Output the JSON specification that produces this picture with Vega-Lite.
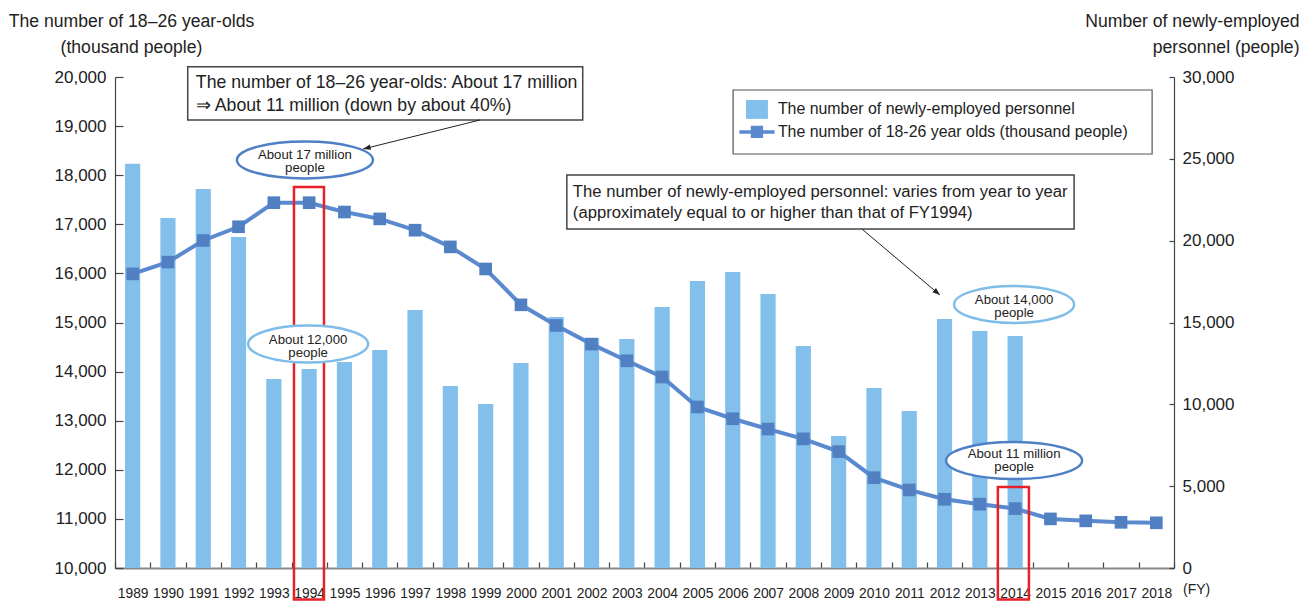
{
  "$schema": "https://vega.github.io/schema/vega-lite/v6.json",
  "width": 1059,
  "height": 491,
  "autosize": {"type": "none"},
  "padding": {"left": 115, "top": 77, "right": 137, "bottom": 33},
  "background": "white",
  "config": {"view": {"stroke": null}, "axis": {"grid": false}},
  "data": {"values": [
    {"year": 1989, "newly": 24700, "age": 15990},
    {"year": 1990, "newly": 21380, "age": 16230},
    {"year": 1991, "newly": 23160, "age": 16670},
    {"year": 1992, "newly": 20220, "age": 16950},
    {"year": 1993, "newly": 11550, "age": 17440},
    {"year": 1994, "newly": 12160, "age": 17440},
    {"year": 1995, "newly": 12590, "age": 17250},
    {"year": 1996, "newly": 13320, "age": 17110},
    {"year": 1997, "newly": 15760, "age": 16880},
    {"year": 1998, "newly": 11120, "age": 16540},
    {"year": 1999, "newly": 10020, "age": 16090},
    {"year": 2000, "newly": 12530, "age": 15360},
    {"year": 2001, "newly": 15340, "age": 14940},
    {"year": 2002, "newly": 14050, "age": 14560},
    {"year": 2003, "newly": 13990, "age": 14220},
    {"year": 2004, "newly": 15950, "age": 13890},
    {"year": 2005, "newly": 17540, "age": 13280},
    {"year": 2006, "newly": 18090, "age": 13040},
    {"year": 2007, "newly": 16740, "age": 12830},
    {"year": 2008, "newly": 13560, "age": 12630},
    {"year": 2009, "newly": 8070, "age": 12370},
    {"year": 2010, "newly": 11000, "age": 11840},
    {"year": 2011, "newly": 9590, "age": 11590},
    {"year": 2012, "newly": 15210, "age": 11400},
    {"year": 2013, "newly": 14480, "age": 11300},
    {"year": 2014, "newly": 14180, "age": 11210},
    {"year": 2015, "age": 11000},
    {"year": 2016, "age": 10960},
    {"year": 2017, "age": 10930},
    {"year": 2018, "age": 10920}
  ]},
  "layer": [
    {
      "layer": [
        {
          "mark": {"type": "bar", "width": {"band": 0.43}},
          "encoding": {
            "x": {"field": "year", "type": "ordinal", "scale": {"paddingInner": 0, "paddingOuter": 0},
              "axis": {"tickBand": "extent", "tickSize": -6, "tickColor": "#444", "tickWidth": 1.2, "labelPadding": 24.1, "labelAngle": 0, "labelOverlap": false,
                "labelFont": "Liberation Sans", "labelFontSize": 13.8, "labelColor": "#222", "labelBaseline": "top",
                "domainColor": "#888", "domainWidth": 2, "title": null}},
            "y": {"field": "newly", "type": "quantitative", "scale": {"domain": [0, 30000], "nice": false},
              "axis": {"orient": "right", "values": [0, 5000, 10000, 15000, 20000, 25000, 30000], "format": ",.0f",
                "tickSize": -5, "tickColor": "#444", "tickWidth": 1.2, "domainColor": "#444", "domainWidth": 1.2,
                "labelPadding": 13, "labelFont": "Liberation Sans", "labelFontSize": 17, "labelColor": "#222",
                "title": ["Number of newly-employed", "personnel (people)"], "titleAngle": 0, "titleX": 125, "titleY": -50.3,
                "titleAlign": "right", "titleBaseline": "alphabetic", "titleFont": "Liberation Sans", "titleFontSize": 17.6,
                "titleFontWeight": "normal", "titleLineHeight": 26.3, "titleColor": "#222"}},
            "color": {"datum": "The number of newly-employed personnel",
              "scale": {"domain": ["The number of newly-employed personnel", "The number of 18-26 year olds (thousand people)"], "range": ["#82c0eb", "#5585c8"]},
              "legend": {"orient": "none", "legendX": 634, "legendY": 24.5, "title": null, "padding": 0,
                "labelFont": "Liberation Sans", "labelFontSize": 15.9, "labelColor": "#222", "labelLimit": 600,
                "symbolSize": 484, "labelOffset": 13, "rowPadding": 0.5,
                "encode": {"symbols": {"update": {
                  "shape": {"signal": "datum.value === 'The number of newly-employed personnel' ? 'M-1,-0.86H1V0.86H-1Z' : 'M-1.6,0H1.6M-0.4,-0.4H0.4V0.4H-0.4Z'"},
                  "fill": {"signal": "datum.value === 'The number of newly-employed personnel' ? '#82c0eb' : '#5080c2'"},
                  "stroke": {"signal": "datum.value === 'The number of newly-employed personnel' ? 'transparent' : '#5a89cf'"},
                  "strokeWidth": {"signal": "datum.value === 'The number of newly-employed personnel' ? 0 : 3.5"},
                  "opacity": {"value": 1}, "fillOpacity": {"value": 1}, "strokeOpacity": {"value": 1}}}}}}
          }
        },
        {
          "mark": {"type": "line", "color": "#5a89cf", "strokeWidth": 4,
            "point": {"filled": true, "shape": "square", "size": 160, "color": "#5080c2", "opacity": 1}},
          "encoding": {
            "x": {"field": "year", "type": "ordinal"},
            "y": {"field": "age", "type": "quantitative", "scale": {"domain": [10000, 20000], "nice": false, "zero": false},
              "axis": {"orient": "left", "values": [10000, 11000, 12000, 13000, 14000, 15000, 16000, 17000, 18000, 19000, 20000], "format": ",.0f",
                "tickSize": -8, "tickColor": "#444", "tickWidth": 1.2, "domainColor": "#444", "domainWidth": 1.2,
                "labelPadding": 17, "labelFont": "Liberation Sans", "labelFontSize": 17, "labelColor": "#222",
                "title": ["The number of 18–26 year-olds", "(thousand people)"], "titleAngle": 0, "titleX": 16, "titleY": -50.3,
                "titleAlign": "center", "titleBaseline": "alphabetic", "titleFont": "Liberation Sans", "titleFontSize": 17.6,
                "titleFontWeight": "normal", "titleLineHeight": 26.3, "titleColor": "#222"}}
          }
        }
      ],
      "resolve": {"scale": {"y": "independent"}}
    },
    {
      "data": {"values": [{}]},
      "layer": [
        {
          "mark": {"type": "rect", "filled": false, "color": "#e8202a", "strokeWidth": 2.5},
          "encoding": {
            "x": {"datum": 1993.57, "type": "quantitative", "scale": {"domain": [1988.5, 2018.5], "nice": false, "zero": false}, "axis": null},
            "x2": {"datum": 1994.42},
            "y": {"datum": 17760, "type": "quantitative", "scale": {"domain": [10000, 20000], "nice": false, "zero": false}, "axis": null},
            "y2": {"datum": 9360}
          }
        },
        {
          "mark": {"type": "rect", "filled": false, "color": "#e8202a", "strokeWidth": 2.5},
          "encoding": {
            "x": {"datum": 2013.51, "type": "quantitative", "scale": {"domain": [1988.5, 2018.5], "nice": false, "zero": false}, "axis": null},
            "x2": {"datum": 2014.39},
            "y": {"datum": 11650, "type": "quantitative", "scale": {"domain": [10000, 20000], "nice": false, "zero": false}, "axis": null},
            "y2": {"datum": 9360}
          }
        },
        {
          "mark": {"type": "point", "shape": "M-1,0C-1,-0.15,-0.552,-0.272,0,-0.272C0.552,-0.272,1,-0.15,1,0C1,0.15,0.552,0.272,0,0.272C-0.552,0.272,-1,0.15,-1,0Z",
            "size": 18496, "filled": true, "fill": "white", "stroke": "#4f7fc4", "strokeWidth": 2.5, "opacity": 1},
          "encoding": {
            "x": {"datum": 1993.88, "type": "quantitative", "scale": {"domain": [1988.5, 2018.5], "nice": false, "zero": false}, "axis": null},
            "y": {"datum": 18310, "type": "quantitative", "scale": {"domain": [10000, 20000], "nice": false, "zero": false}, "axis": null}
          }
        },
        {
          "mark": {"type": "point", "shape": "M-1,0C-1,-0.17,-0.552,-0.308,0,-0.308C0.552,-0.308,1,-0.17,1,0C1,0.17,0.552,0.308,0,0.308C-0.552,0.308,-1,0.17,-1,0Z",
            "size": 14400, "filled": true, "fill": "white", "stroke": "#7fbde8", "strokeWidth": 2.5, "opacity": 1},
          "encoding": {
            "x": {"datum": 1993.97, "type": "quantitative", "scale": {"domain": [1988.5, 2018.5], "nice": false, "zero": false}, "axis": null},
            "y": {"datum": 14562, "type": "quantitative", "scale": {"domain": [10000, 20000], "nice": false, "zero": false}, "axis": null}
          }
        },
        {
          "mark": {"type": "point", "shape": "M-1,0C-1,-0.17,-0.552,-0.308,0,-0.308C0.552,-0.308,1,-0.17,1,0C1,0.17,0.552,0.308,0,0.308C-0.552,0.308,-1,0.17,-1,0Z",
            "size": 14400, "filled": true, "fill": "white", "stroke": "#7fbde8", "strokeWidth": 2.5, "opacity": 1},
          "encoding": {
            "x": {"datum": 2013.97, "type": "quantitative", "scale": {"domain": [1988.5, 2018.5], "nice": false, "zero": false}, "axis": null},
            "y": {"datum": 15367, "type": "quantitative", "scale": {"domain": [10000, 20000], "nice": false, "zero": false}, "axis": null}
          }
        },
        {
          "mark": {"type": "point", "shape": "M-1,0C-1,-0.15,-0.552,-0.272,0,-0.272C0.552,-0.272,1,-0.15,1,0C1,0.15,0.552,0.272,0,0.272C-0.552,0.272,-1,0.15,-1,0Z",
            "size": 18496, "filled": true, "fill": "white", "stroke": "#4f7fc4", "strokeWidth": 2.5, "opacity": 1},
          "encoding": {
            "x": {"datum": 2013.97, "type": "quantitative", "scale": {"domain": [1988.5, 2018.5], "nice": false, "zero": false}, "axis": null},
            "y": {"datum": 12189, "type": "quantitative", "scale": {"domain": [10000, 20000], "nice": false, "zero": false}, "axis": null}
          }
        },
        {
          "mark": {"type": "text", "text": ["About 17 million", "people"], "font": "Liberation Sans", "fontSize": 13.2, "lineHeight": 13, "align": "center", "baseline": "middle", "color": "#222"},
          "encoding": {
            "x": {"datum": 1993.88, "type": "quantitative", "scale": {"domain": [1988.5, 2018.5], "nice": false, "zero": false}, "axis": null},
            "y": {"datum": 18411, "type": "quantitative", "scale": {"domain": [10000, 20000], "nice": false, "zero": false}, "axis": null}
          }
        },
        {
          "mark": {"type": "text", "text": ["About 12,000", "people"], "font": "Liberation Sans", "fontSize": 13.2, "lineHeight": 13, "align": "center", "baseline": "middle", "color": "#222"},
          "encoding": {
            "x": {"datum": 1993.97, "type": "quantitative", "scale": {"domain": [1988.5, 2018.5], "nice": false, "zero": false}, "axis": null},
            "y": {"datum": 14643, "type": "quantitative", "scale": {"domain": [10000, 20000], "nice": false, "zero": false}, "axis": null}
          }
        },
        {
          "mark": {"type": "text", "text": ["About 14,000", "people"], "font": "Liberation Sans", "fontSize": 13.2, "lineHeight": 13, "align": "center", "baseline": "middle", "color": "#222"},
          "encoding": {
            "x": {"datum": 2013.97, "type": "quantitative", "scale": {"domain": [1988.5, 2018.5], "nice": false, "zero": false}, "axis": null},
            "y": {"datum": 15458, "type": "quantitative", "scale": {"domain": [10000, 20000], "nice": false, "zero": false}, "axis": null}
          }
        },
        {
          "mark": {"type": "text", "text": ["About 11 million", "people"], "font": "Liberation Sans", "fontSize": 13.2, "lineHeight": 13, "align": "center", "baseline": "middle", "color": "#222"},
          "encoding": {
            "x": {"datum": 2013.97, "type": "quantitative", "scale": {"domain": [1988.5, 2018.5], "nice": false, "zero": false}, "axis": null},
            "y": {"datum": 12321, "type": "quantitative", "scale": {"domain": [10000, 20000], "nice": false, "zero": false}, "axis": null}
          }
        },
        {
          "mark": {"type": "rect", "fill": "white", "stroke": "#555", "strokeWidth": 1.2},
          "encoding": {
            "x": {"datum": 2006.01, "type": "quantitative", "scale": {"domain": [1988.5, 2018.5], "nice": false, "zero": false}, "axis": null},
            "x2": {"datum": 2017.88},
            "y": {"datum": 19735, "type": "quantitative", "scale": {"domain": [10000, 20000], "nice": false, "zero": false}, "axis": null},
            "y2": {"datum": 18432}
          }
        },
        {
          "mark": {"type": "rect", "fill": "white", "stroke": "#444", "strokeWidth": 1.5},
          "encoding": {
            "x": {"datum": 1990.56, "type": "quantitative", "scale": {"domain": [1988.5, 2018.5], "nice": false, "zero": false}, "axis": null},
            "x2": {"datum": 2001.75},
            "y": {"datum": 20210, "type": "quantitative", "scale": {"domain": [10000, 20000], "nice": false, "zero": false}, "axis": null},
            "y2": {"datum": 19124}
          }
        },
        {
          "mark": {"type": "text", "text": ["The number of 18–26 year-olds: About 17 million", "⇒ About 11 million (down by about 40%)"], "font": "Liberation Sans", "fontSize": 17.7, "lineHeight": 23.3, "align": "left", "baseline": "middle", "color": "#222"},
          "encoding": {
            "x": {"datum": 1990.79, "type": "quantitative", "scale": {"domain": [1988.5, 2018.5], "nice": false, "zero": false}, "axis": null},
            "y": {"datum": 19884, "type": "quantitative", "scale": {"domain": [10000, 20000], "nice": false, "zero": false}, "axis": null}
          }
        },
        {
          "mark": {"type": "rect", "fill": "white", "stroke": "#444", "strokeWidth": 1.5},
          "encoding": {
            "x": {"datum": 2001.30, "type": "quantitative", "scale": {"domain": [1988.5, 2018.5], "nice": false, "zero": false}, "axis": null},
            "x2": {"datum": 2015.67},
            "y": {"datum": 18004, "type": "quantitative", "scale": {"domain": [10000, 20000], "nice": false, "zero": false}, "axis": null},
            "y2": {"datum": 16904}
          }
        },
        {
          "mark": {"type": "text", "text": ["The number of newly-employed personnel: varies from year to year", "(approximately equal to or higher than that of FY1994)"], "font": "Liberation Sans", "fontSize": 16.65, "lineHeight": 21, "align": "left", "baseline": "middle", "color": "#222"},
          "encoding": {
            "x": {"datum": 2001.47, "type": "quantitative", "scale": {"domain": [1988.5, 2018.5], "nice": false, "zero": false}, "axis": null},
            "y": {"datum": 17664, "type": "quantitative", "scale": {"domain": [10000, 20000], "nice": false, "zero": false}, "axis": null}
          }
        },
        {
          "mark": {"type": "rule", "color": "#222", "strokeWidth": 1},
          "encoding": {
            "x": {"datum": 1998.84, "type": "quantitative", "scale": {"domain": [1988.5, 2018.5], "nice": false, "zero": false}, "axis": null},
            "x2": {"datum": 1995.53},
            "y": {"datum": 19124, "type": "quantitative", "scale": {"domain": [10000, 20000], "nice": false, "zero": false}, "axis": null},
            "y2": {"datum": 18534}
          }
        },
        {
          "mark": {"type": "point", "shape": "M0,0L-0.55,1.5L0.55,1.5Z", "size": 100, "filled": true, "color": "#222", "angle": 256, "opacity": 1},
          "encoding": {
            "x": {"datum": 1995.53, "type": "quantitative", "scale": {"domain": [1988.5, 2018.5], "nice": false, "zero": false}, "axis": null},
            "y": {"datum": 18534, "type": "quantitative", "scale": {"domain": [10000, 20000], "nice": false, "zero": false}, "axis": null}
          }
        },
        {
          "mark": {"type": "rule", "color": "#222", "strokeWidth": 1},
          "encoding": {
            "x": {"datum": 2009.66, "type": "quantitative", "scale": {"domain": [1988.5, 2018.5], "nice": false, "zero": false}, "axis": null},
            "x2": {"datum": 2011.87},
            "y": {"datum": 16904, "type": "quantitative", "scale": {"domain": [10000, 20000], "nice": false, "zero": false}, "axis": null},
            "y2": {"datum": 15560}
          }
        },
        {
          "mark": {"type": "point", "shape": "M0,0L-0.55,1.5L0.55,1.5Z", "size": 100, "filled": true, "color": "#222", "angle": 130, "opacity": 1},
          "encoding": {
            "x": {"datum": 2011.87, "type": "quantitative", "scale": {"domain": [1988.5, 2018.5], "nice": false, "zero": false}, "axis": null},
            "y": {"datum": 15560, "type": "quantitative", "scale": {"domain": [10000, 20000], "nice": false, "zero": false}, "axis": null}
          }
        },
        {
          "mark": {"type": "text", "text": "(FY)", "font": "Liberation Sans", "fontSize": 14, "align": "center", "baseline": "middle", "color": "#222"},
          "encoding": {
            "x": {"datum": 2019.14, "type": "quantitative", "scale": {"domain": [1988.5, 2018.5], "nice": false, "zero": false}, "axis": null},
            "y": {"datum": 9552, "type": "quantitative", "scale": {"domain": [10000, 20000], "nice": false, "zero": false}, "axis": null}
          }
        }
      ]
    }
  ],
  "resolve": {"scale": {"x": "independent", "y": "independent"}}
}
